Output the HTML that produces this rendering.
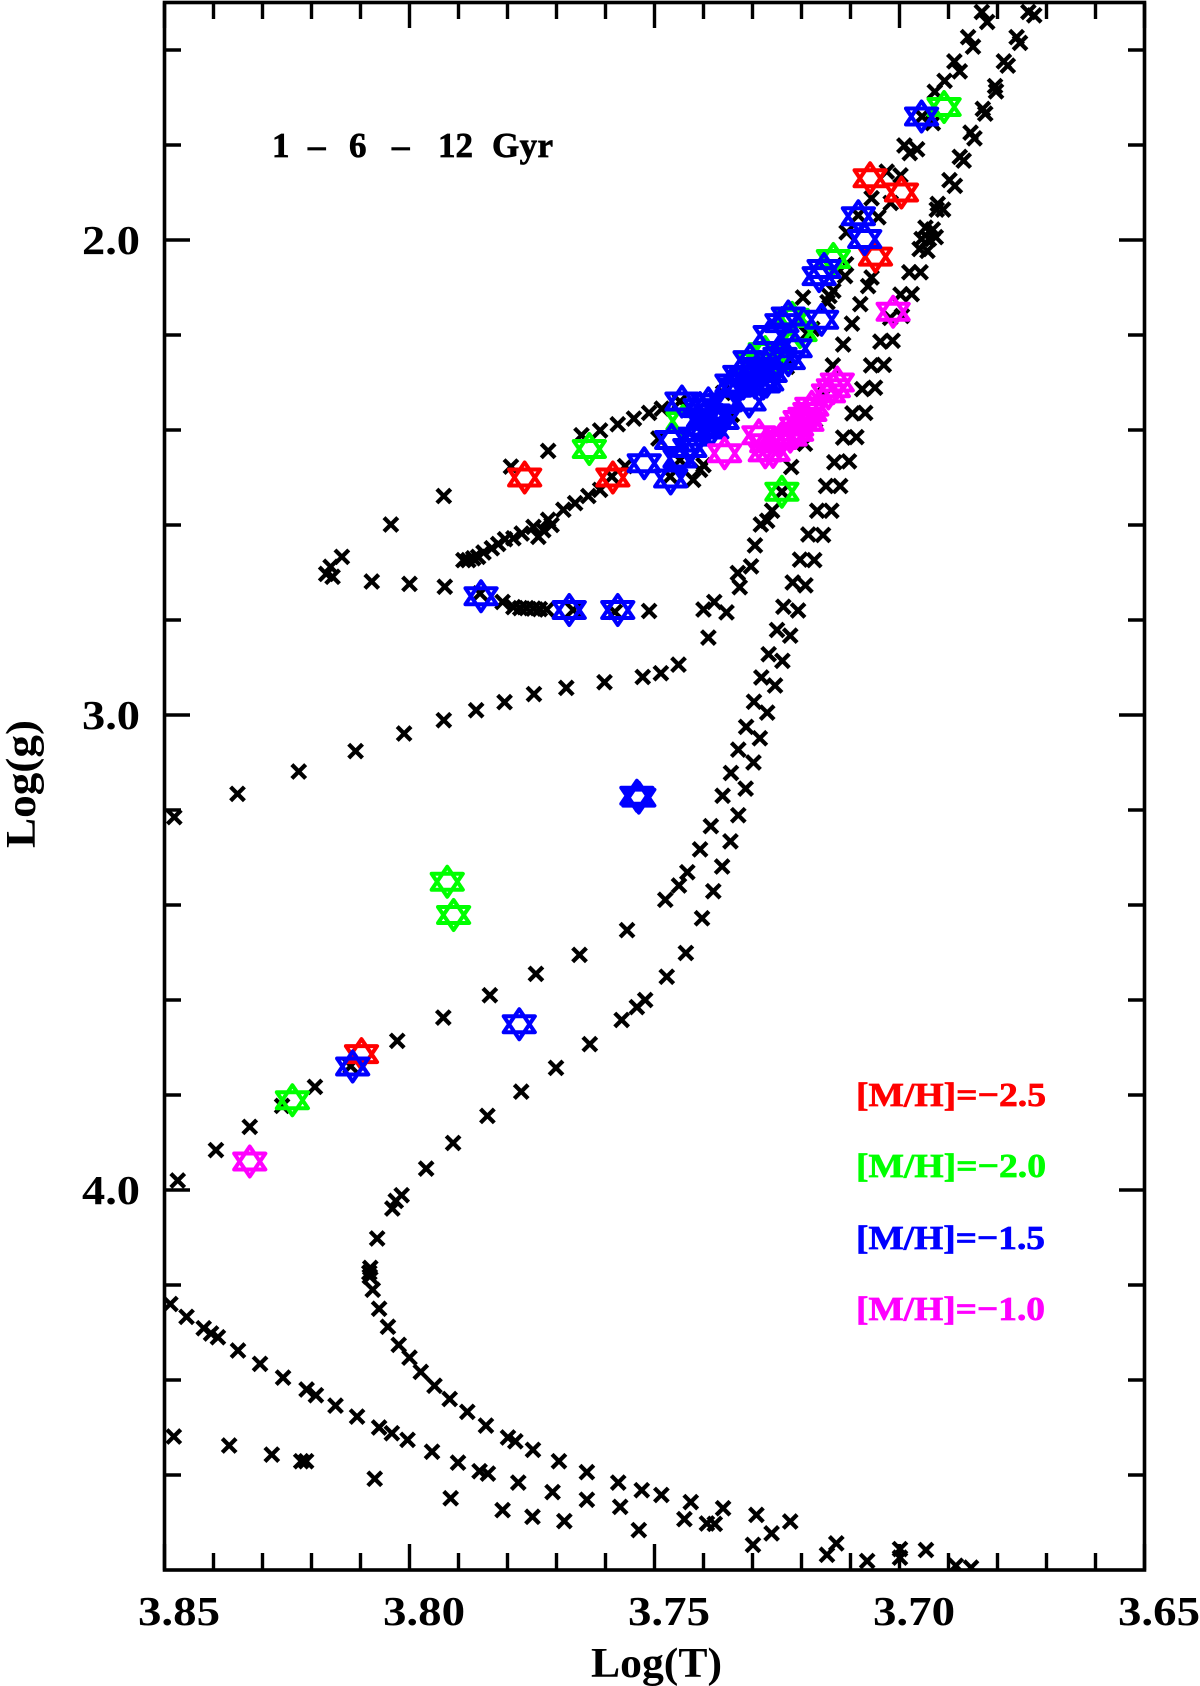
<!DOCTYPE html>
<html lang="en">
<head>
<meta charset="utf-8">
<title>Log(g) vs Log(T) isochrones</title>
<style>
html,body{margin:0;padding:0;background:#fff;}
svg{display:block;}
text{font-family:"Liberation Serif",serif;font-weight:bold;}
</style>
</head>
<body>
<svg id="chart" xmlns="http://www.w3.org/2000/svg" width="1200" height="1686" viewBox="0 0 1200 1686">
  <defs><clipPath id="plot-clip"><rect x="164.5" y="2.5" width="980" height="1567.5"/></clipPath></defs>
  <rect width="1200" height="1686" fill="#fff"/>
  <g id="marks" clip-path="url(#plot-clip)"></g>
  <g id="ticks"></g>
  <rect x="164.5" y="2.5" width="980" height="1567.5" fill="none" stroke="#000" stroke-width="3.6"/>
  <g id="labels"></g>
  <text x="591" y="1677" font-size="42" textLength="131" lengthAdjust="spacingAndGlyphs" fill="#000">Log(T)</text>
  <text transform="translate(35,848) rotate(-90)" x="0" y="0" font-size="42" textLength="128" lengthAdjust="spacingAndGlyphs" fill="#000">Log(g)</text>
  <text font-size="35" fill="#000" stroke="#000" stroke-width="0.7" y="157"><tspan x="272">1</tspan><tspan x="308">–</tspan><tspan x="349">6</tspan><tspan x="392">–</tspan><tspan x="438">12</tspan><tspan x="492" textLength="61">Gyr</tspan></text>
  <g font-size="34" stroke-width="0.7">
    <text x="856" y="1106" fill="#ff0000" stroke="#ff0000" textLength="190" lengthAdjust="spacingAndGlyphs">[M/H]=−2.5</text>
    <text x="856" y="1177" fill="#00ff00" stroke="#00ff00" textLength="190" lengthAdjust="spacingAndGlyphs">[M/H]=−2.0</text>
    <text x="856" y="1249" fill="#0000ff" stroke="#0000ff" textLength="189" lengthAdjust="spacingAndGlyphs">[M/H]=−1.5</text>
    <text x="856" y="1320" fill="#ff00ff" stroke="#ff00ff" textLength="189" lengthAdjust="spacingAndGlyphs">[M/H]=−1.0</text>
  </g>
</svg>
<script>
const xMajorTicks=[3.85,3.80,3.75,3.70,3.65];
const xMajorLabels=["3.85","3.80","3.75","3.70","3.65"];
const xMinorTicks=[3.84,3.83,3.82,3.81,3.79,3.78,3.77,3.76,3.74,3.73,3.72,3.71,3.69,3.68,3.67,3.66];
const yMajorTicks=[2.0,3.0,4.0];
const yMajorLabels=["2.0","3.0","4.0"];
const yMinorTicks=[1.6,1.8,2.2,2.4,2.6,2.8,3.2,3.4,3.6,3.8,4.2,4.4,4.6];

const lowerMsT=[3.8481,3.8368,3.8281,3.8221,3.8211,3.8071,3.7916,3.781,3.7749,3.7684,3.7532,3.7439,3.7393,3.7377,3.736,3.7299,3.7261,3.7223,3.7148,3.7129,3.7066,3.6999,3.6999,3.6946,3.6885,3.6854,3.7574,3.7526,3.7486,3.7426,3.7292];
const lowerMsG=[4.519,4.538,4.557,4.571,4.571,4.608,4.649,4.674,4.688,4.697,4.716,4.693,4.702,4.703,4.670,4.747,4.723,4.698,4.768,4.744,4.781,4.756,4.774,4.758,4.791,4.795,4.616,4.632,4.642,4.657,4.684];

const middleMsT=[3.8488,3.8455,3.842,3.8405,3.8391,3.835,3.8305,3.8258,3.821,3.8191,3.8151,3.8107,3.8062,3.8036,3.8004,3.7954,3.7901,3.7857,3.784,3.7778,3.7708,3.7638,3.757];
const middleMsG=[4.240,4.267,4.291,4.302,4.310,4.338,4.366,4.395,4.420,4.432,4.454,4.477,4.500,4.512,4.526,4.551,4.574,4.592,4.597,4.616,4.636,4.652,4.667];

const oldTrackT=[3.7638,3.7695,3.7748,3.7784,3.7799,3.7844,3.7882,3.7918,3.7949,3.7977,3.80,3.8022,3.8044,3.8062,3.8075,3.8081,3.8082,3.808,3.8066,3.8035,3.8028,3.8016,3.7966,3.7911,3.7841,3.7772,3.7701,3.7632,3.7567,3.7536,3.7519,3.7475,3.7436,3.7403,3.738,3.7362,3.7345,3.7329,3.7314,3.7298,3.7285,3.727,3.7254,3.7239,3.7223,3.7207,3.7192,3.7174,3.7156,3.7139,3.7121,3.7103,3.7088,3.707,3.705,3.7032,3.7014,3.6995,3.6975,3.6957,3.6943,3.694,3.6932,3.6926,3.6911,3.6887,3.6869,3.6847,3.6825,3.6803,3.6779,3.6754,3.6725];
const oldTrackG=[4.594,4.571,4.547,4.529,4.521,4.496,4.467,4.440,4.412,4.383,4.353,4.326,4.288,4.250,4.210,4.182,4.174,4.164,4.102,4.039,4.023,4.011,3.955,3.901,3.844,3.793,3.743,3.693,3.642,3.615,3.600,3.551,3.501,3.428,3.371,3.319,3.266,3.211,3.155,3.100,3.049,2.995,2.938,2.886,2.833,2.780,2.727,2.674,2.621,2.570,2.518,2.466,2.415,2.364,2.311,2.263,2.212,2.160,2.114,2.068,2.023,1.998,1.978,1.994,1.936,1.886,1.833,1.786,1.734,1.687,1.633,1.585,1.527];

const midTrackT=[3.8473,3.8395,3.8326,3.826,3.8193,3.812,3.8025,3.7931,3.7836,3.7742,3.7653,3.7556,3.7478,3.745,3.7433,3.7407,3.7385,3.7361,3.7344,3.7329,3.7313,3.7297,3.7282,3.7267,3.725,3.7237,3.7218,3.7203,3.7186,3.7168,3.715,3.7133,3.7115,3.7096,3.7076,3.7058,3.7039,3.7019,3.6998,3.698,3.6959,3.6955,3.6947,3.6924,3.6922,3.6898,3.6877,3.6855,3.683,3.6805,3.6787,3.6761,3.6737];
const midTrackG=[3.980,3.916,3.867,3.823,3.783,3.739,3.686,3.637,3.590,3.545,3.505,3.453,3.389,3.359,3.331,3.283,3.234,3.170,3.122,3.073,3.025,2.972,2.921,2.872,2.821,2.772,2.721,2.673,2.620,2.570,2.518,2.468,2.416,2.365,2.314,2.264,2.214,2.164,2.115,2.068,2.019,1.998,1.974,1.936,1.924,1.874,1.825,1.774,1.724,1.676,1.624,1.573,1.520];

const youngTrackT=[3.848,3.8351,3.8226,3.811,3.8011,3.793,3.7864,3.7806,3.7746,3.768,3.7602,3.7524,3.7487,3.7451,3.739,3.74,3.7353,3.7378,3.733,3.7326,3.7303,3.7295,3.7283,3.727,3.726,3.724,3.7221,3.7193,3.7172,3.7152,3.7136,3.7115,3.7097,3.708,3.7064,3.7057,3.7043,3.7018,3.6998,3.6964,3.6932,3.6908,3.6877,3.685,3.6821];
const youngTrackG=[3.215,3.166,3.119,3.076,3.039,3.011,2.990,2.973,2.956,2.943,2.931,2.920,2.912,2.894,2.837,2.778,2.784,2.762,2.701,2.731,2.687,2.643,2.599,2.591,2.570,2.530,2.478,2.429,2.379,2.326,2.264,2.220,2.176,2.135,2.097,2.079,1.952,1.922,1.864,1.809,1.754,1.665,1.645,1.593,1.541];

const upperBranchT=[3.7108,3.7084,3.7057,3.7026,3.699,3.6979,3.6954,3.6928,3.6888,3.686,3.6832,3.7109,3.7111,3.7135,3.7147,3.7143,3.7197,3.7178,3.7189,3.723,3.7342,3.736];
const upperBranchG=[1.984,1.948,1.912,1.856,1.801,1.817,1.740,1.688,1.624,1.573,1.520,2.051,2.076,2.107,2.131,2.118,2.121,2.187,2.197,2.267,2.368,2.322];

const risingBranchT=[3.74,3.7407,3.7421,3.7448,3.7468,3.7492,3.756,3.7587,3.7611,3.7635,3.7662,3.7686,3.771,3.7717,3.7727,3.7737,3.7747,3.7771,3.7788,3.7805,3.7819,3.7832,3.7849,3.786,3.787,3.788,3.789];
const risingBranchG=[2.474,2.484,2.505,2.463,2.498,2.418,2.476,2.498,2.526,2.539,2.554,2.568,2.600,2.589,2.611,2.625,2.604,2.618,2.628,2.630,2.640,2.649,2.658,2.667,2.670,2.674,2.674];

const horizontalT=[3.817,3.8161,3.8157,3.8138,3.8077,3.80,3.7928,3.7856,3.781,3.7788,3.7774,3.7761,3.7747,3.7734,3.772,3.7666,3.7581,3.7511];
const horizontalG=[2.703,2.688,2.709,2.667,2.719,2.724,2.730,2.744,2.762,2.773,2.775,2.775,2.776,2.777,2.778,2.779,2.783,2.781];

const sparseArcT=[3.8038,3.793,3.7793,3.7717,3.7649,3.7611,3.7575,3.7542,3.7511,3.7485,3.7448];
const sparseArcG=[2.599,2.539,2.477,2.444,2.411,2.401,2.388,2.376,2.364,2.355,2.340];

const redT=[3.7765,3.7585,3.8098,3.706,3.6996,3.7049];
const redG=[2.500,2.500,3.714,1.870,1.900,2.035];

const greenT=[3.7633,3.8239,3.7923,3.791,3.6909,3.7135,3.724,3.7442,3.7219,3.7203,3.7274,3.7295,3.7254];
const greenG=[2.440,3.811,3.351,3.421,1.720,2.040,2.530,2.381,2.164,2.194,2.236,2.257,2.257];

const blueT=[3.7854,3.7674,3.7575,3.7521,3.7467,3.7444,3.7776,3.8116,3.7532,3.7536,3.6955,3.7084,3.7071,3.7154,3.7164,3.7465,3.7448,3.7417,3.7393,3.738,3.739,3.7407,3.7377,3.74,3.7428,3.7307,3.7342,3.7305,3.7319,3.7278,3.7271,3.7305,3.7326,3.7291,3.7264,3.724,3.7227,3.7227,3.7213,3.7244,3.7159,3.7285,3.7264,3.7362,3.7356,3.7295,3.7336,3.7383];
const blueG=[2.750,2.779,2.779,2.470,2.502,2.340,3.651,3.740,3.174,3.170,1.740,1.950,1.998,2.061,2.076,2.421,2.460,2.414,2.393,2.365,2.344,2.354,2.379,2.375,2.438,2.340,2.302,2.288,2.302,2.302,2.298,2.253,2.284,2.274,2.200,2.175,2.161,2.253,2.228,2.246,2.168,2.267,2.280,2.379,2.342,2.300,2.311,2.399];

const magentaT=[3.8326,3.7357,3.7013,3.7287,3.7258,3.7271,3.7244,3.7223,3.721,3.7189,3.7183,3.7193,3.7179,3.721,3.7135,3.7127,3.7145,3.7203,3.7274];
const magentaG=[3.940,2.449,2.151,2.411,2.446,2.428,2.421,2.414,2.393,2.383,2.362,2.372,2.351,2.404,2.312,2.300,2.323,2.379,2.447];

const SVGNS='http://www.w3.org/2000/svg';
function xScale(t){return 164.5+(3.85-t)*4900;}
function yScale(g){return 2.5+(g-1.5)*475;}

const marksLayer=document.getElementById('marks');
const ticksLayer=document.getElementById('ticks');
const labelsLayer=document.getElementById('labels');

function drawCross(t,g){
  const x=xScale(t),y=yScale(g),r=6.9;
  const el=document.createElementNS(SVGNS,'path');
  
  
  el.setAttribute('d','M'+(x-r)+' '+(y-r)+'L'+(x+r)+' '+(y+r)+'M'+(x-r)+' '+(y+r)+'L'+(x+r)+' '+(y-r));
  el.setAttribute('stroke','#000');
  el.setAttribute('stroke-width','4.2');
  el.setAttribute('fill','none');
  marksLayer.appendChild(el);
}
function drawCrosses(ts,gs){
  for(let i=0;i<ts.length;i++){drawCross(ts[i],gs[i]);}
}
function drawStar(t,g,color){
  const x=xScale(t),y=yScale(g),w=15.6,h=15,m=8;
  const el=document.createElementNS(SVGNS,'path');
  
  
  el.setAttribute('d','M'+x+' '+(y-h)+'L'+(x+w)+' '+(y+m)+'L'+(x-w)+' '+(y+m)+'Z'+'M'+x+' '+(y+h)+'L'+(x+w)+' '+(y-m)+'L'+(x-w)+' '+(y-m)+'Z');
  el.setAttribute('stroke',color);
  el.setAttribute('stroke-width','4');
  el.setAttribute('stroke-linejoin','round');
  el.setAttribute('fill','none');
  marksLayer.appendChild(el);
}
function drawStars(ts,gs,color){
  for(let i=0;i<ts.length;i++){drawStar(ts[i],gs[i],color);}
}
function drawTick(x1,y1,x2,y2){
  const el=document.createElementNS(SVGNS,'line');
  
  
  el.setAttribute('x1',x1);
  el.setAttribute('y1',y1);
  el.setAttribute('x2',x2);
  el.setAttribute('y2',y2);
  el.setAttribute('stroke','#000');
  el.setAttribute('stroke-width','3.4');
  ticksLayer.appendChild(el);
}
function drawLabel(x,y,str,anchor,len){
  const el=document.createElementNS(SVGNS,'text');
  
  
  el.setAttribute('x',x);
  el.setAttribute('y',y);
  el.setAttribute('font-size','41');
  el.setAttribute('text-anchor',anchor);
  el.setAttribute('textLength',len);
  el.setAttribute('lengthAdjust','spacingAndGlyphs');
  el.textContent=str;
  labelsLayer.appendChild(el);
}

drawCrosses(lowerMsT,lowerMsG);
drawCrosses(middleMsT,middleMsG);
drawCrosses(oldTrackT,oldTrackG);
drawCrosses(midTrackT,midTrackG);
drawCrosses(youngTrackT,youngTrackG);
drawCrosses(upperBranchT,upperBranchG);
drawCrosses(risingBranchT,risingBranchG);
drawCrosses(horizontalT,horizontalG);
drawCrosses(sparseArcT,sparseArcG);
drawStars(redT,redG,'#ff0000');
drawStars(greenT,greenG,'#00ff00');
drawStars(blueT,blueG,'#0000ff');
drawStars(magentaT,magentaG,'#ff00ff');

xMajorTicks.forEach(function(t,i){
  const x=xScale(t);
  drawTick(x,2.5,x,28);
  drawTick(x,1570,x,1544);
  drawLabel(x+14.5,1625,xMajorLabels[i],'middle',82);
});
xMinorTicks.forEach(function(t){
  const x=xScale(t);
  drawTick(x,2.5,x,19);
  drawTick(x,1570,x,1553);
});
yMajorTicks.forEach(function(g,i){
  const y=yScale(g);
  drawTick(164.5,y,190,y);
  drawTick(1144.5,y,1119,y);
  drawLabel(140,y+14,yMajorLabels[i],'end',58);
});
yMinorTicks.forEach(function(g){
  const y=yScale(g);
  drawTick(164.5,y,181,y);
  drawTick(1144.5,y,1128,y);
});
</script>
</body>
</html>
